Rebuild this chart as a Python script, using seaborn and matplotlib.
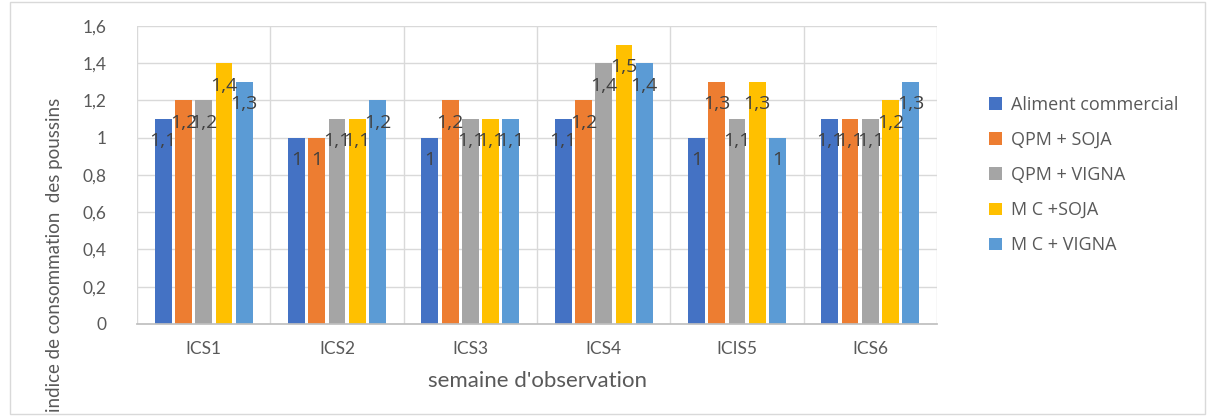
import matplotlib
matplotlib.use("Agg")
import matplotlib.pyplot as plt
import seaborn as sns
import pandas as pd
from matplotlib.patches import Rectangle

categories = ["ICS1", "ICS2", "ICS3", "ICS4", "ICIS5", "ICS6"]
series_names = ["Aliment commercial", "QPM + SOJA", "QPM + VIGNA", "M C +SOJA", "M C + VIGNA"]
aliment_commercial = [1.1, 1.0, 1.0, 1.1, 1.0, 1.1]
qpm_soja = [1.2, 1.0, 1.2, 1.2, 1.3, 1.1]
qpm_vigna = [1.2, 1.1, 1.1, 1.4, 1.1, 1.1]
mc_soja = [1.4, 1.1, 1.1, 1.5, 1.3, 1.2]
mc_vigna = [1.3, 1.2, 1.1, 1.4, 1.0, 1.3]
yticks = [0, 0.2, 0.4, 0.6, 0.8, 1.0, 1.2, 1.4, 1.6]
colors = ["#4472C4", "#ED7D31", "#A5A5A5", "#FFC000", "#5B9BD5"]

all_series = [aliment_commercial, qpm_soja, qpm_vigna, mc_soja, mc_vigna]
rows = []
for name, vals in zip(series_names, all_series):
    for cat, v in zip(categories, vals):
        rows.append({"semaine": cat, "serie": name, "valeur": v})
df = pd.DataFrame(rows)

sns.set_theme(style="white")
plt.rcParams["font.family"] = ["Lato", "DejaVu Sans"]

fig = plt.figure(figsize=(12.15, 4.16), dpi=100)
fig.patches.append(Rectangle((0.008, 0.006), 0.984, 0.988, transform=fig.transFigure,
                             fill=False, edgecolor="#d9d9d9", linewidth=1.0))
ax = fig.add_axes([0.1128, 0.2212, 0.6584, 0.7163])

sns.barplot(data=df, x="semaine", y="valeur", hue="serie", order=categories,
            hue_order=series_names, palette=colors, width=0.76, gap=0.17,
            saturation=1, ax=ax, legend=True, linewidth=0)

def fmt(v):
    s = f"{v:.1f}"
    if s.endswith(".0"):
        s = s[:-2]
    return s.replace(".", ",")

for cont in ax.containers:
    for bar in cont:
        h = bar.get_height()
        xc = bar.get_x() + bar.get_width() / 2
        ax.text(xc, h - 0.12, fmt(h), ha="center", va="center",
                fontsize=14, color="#404040", family=["Open Sans", "DejaVu Sans"])

ax.set_ylim(0, 1.6)
ax.set_yticks(yticks)
ax.set_yticklabels([fmt(t) if t != 0 else "0" for t in yticks])
ax.set_xlim(-0.5, 5.5)
for yv in yticks[1:]:
    ax.axhline(yv, color="#d9d9d9", lw=1.0, zorder=0)
for xv in [-0.5, 0.5, 1.5, 2.5, 3.5, 4.5, 5.5]:
    ax.axvline(xv, color="#d9d9d9", lw=1.0, zorder=0)
for s in ["top", "right", "left"]:
    ax.spines[s].set_visible(False)
ax.spines["bottom"].set_color("#bfbfbf")
ax.tick_params(axis="y", labelsize=12.5, colors="#595959", length=0, pad=22)
ax.tick_params(axis="x", labelsize=12.5, colors="#595959", length=0, pad=12)

ax.set_xlabel("semaine d'observation", fontsize=16, color="#595959", labelpad=10)
ax.set_ylabel("")
fig.text(0.045, 0.387, "indice de consommation  des poussins", rotation=90,
         ha="center", va="center", fontsize=13.5, color="#595959")

handles, labels = ax.get_legend_handles_labels()
ax.legend(handles, labels, loc="center left", bbox_to_anchor=(1.045, 0.5),
          frameon=False, labelcolor="#595959",
          handlelength=0.7, handleheight=0.7, handletextpad=0.5, labelspacing=0.95,
          prop={"family": ["Open Sans", "DejaVu Sans"], "size": 13})

fig.savefig("out.png", dpi=100)
